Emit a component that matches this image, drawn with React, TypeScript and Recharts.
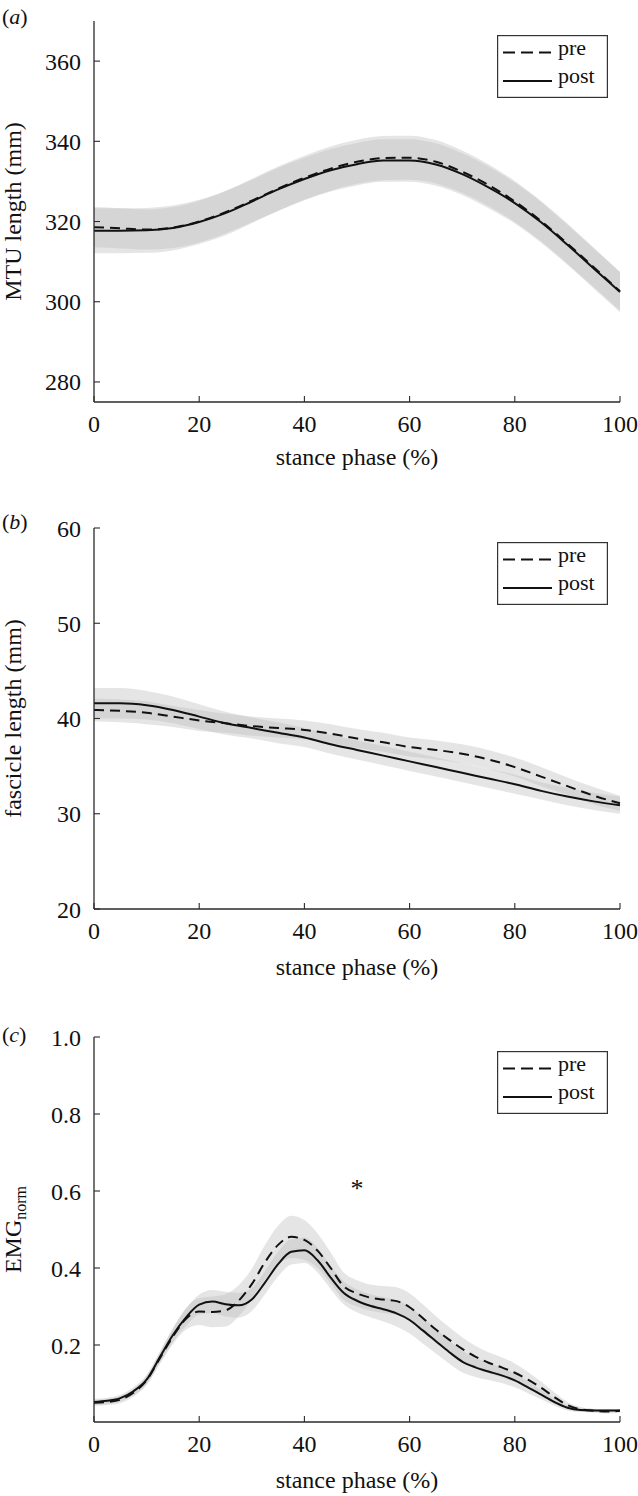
import {
  ComposedChart, Area, Line, XAxis, YAxis, Legend, ReferenceDot,
} from "recharts";

const FONT = '"Liberation Serif", "Times New Roman", serif';
const INK = "#111111";
const AXIS = "#2a2a2a";
const BAND = "#bdbdbd";
const W = 638;

const X_TICKS = [0, 20, 40, 60, 80, 100];
const X_TITLE = "stance phase (%)";

// (a) + (b) sampled every 5 % of stance
const PHASE_AB = [0, 5, 10, 15, 20, 25, 30, 35, 40, 45, 50, 55, 60, 65, 70, 75, 80, 85, 90, 95, 100];

// (a) MTU length (mm)
const MTU_PRE = [318.6, 318.3, 318.0, 318.5, 320.0, 322.3, 325.2, 328.2, 330.9, 333.2, 334.9, 335.8, 335.9, 334.9, 332.4, 329.1, 325.0, 320.1, 314.5, 308.6, 302.6];
const MTU_PRE_SD = [5.0, 5.0, 5.0, 5.1, 5.2, 5.3, 5.4, 5.5, 5.5, 5.5, 5.5, 5.5, 5.5, 5.4, 5.3, 5.2, 5.1, 5.0, 5.0, 4.9, 4.8];
const MTU_POST = [317.7, 317.7, 317.8, 318.4, 319.9, 322.1, 325.0, 328.0, 330.6, 332.8, 334.3, 335.2, 335.2, 334.2, 331.8, 328.5, 324.6, 319.8, 314.2, 308.3, 302.4];
const MTU_POST_SD = [5.6, 5.6, 5.6, 5.6, 5.5, 5.5, 5.4, 5.4, 5.3, 5.3, 5.3, 5.3, 5.3, 5.3, 5.2, 5.2, 5.1, 5.1, 5.0, 5.0, 5.0];
const MTU_TICKS = [280, 300, 320, 340, 360];
const MTU_DOMAIN: [number, number] = [275, 370];

// (b) fascicle length (mm)
const FAS_PRE = [40.9, 40.8, 40.6, 40.2, 39.8, 39.5, 39.2, 39.0, 38.8, 38.4, 37.9, 37.5, 37.0, 36.7, 36.3, 35.7, 34.9, 33.9, 32.9, 31.9, 31.1];
const FAS_PRE_SD = [1.2, 1.2, 1.2, 1.1, 1.1, 1.0, 1.0, 1.0, 1.0, 1.0, 1.0, 1.0, 1.0, 1.0, 1.0, 1.0, 1.0, 1.0, 0.9, 0.9, 0.8];
const FAS_POST = [41.6, 41.6, 41.4, 40.9, 40.2, 39.5, 39.0, 38.5, 38.0, 37.3, 36.7, 36.1, 35.5, 34.9, 34.3, 33.7, 33.1, 32.4, 31.8, 31.3, 30.9];
const FAS_POST_SD = [1.6, 1.6, 1.5, 1.4, 1.3, 1.2, 1.1, 1.1, 1.0, 1.0, 1.0, 1.0, 1.0, 1.0, 1.0, 1.0, 1.0, 0.9, 0.9, 0.9, 0.9];
const FAS_TICKS = [20, 30, 40, 50, 60];
const FAS_DOMAIN: [number, number] = [20, 60];

// (c) normalised EMG, sampled every 2.5 %
const PHASE_C = [0, 2.5, 5, 7.5, 10, 12.5, 15, 17.5, 20, 22.5, 25, 27.5, 30, 32.5, 35, 37.5, 40, 42.5, 45, 47.5, 50, 52.5, 55, 57.5, 60, 62.5, 65, 67.5, 70, 72.5, 75, 77.5, 80, 82.5, 85, 87.5, 90, 92.5, 95, 97.5, 100];
const EMG_PRE = [0.050, 0.052, 0.058, 0.076, 0.108, 0.165, 0.222, 0.268, 0.287, 0.286, 0.290, 0.315, 0.358, 0.415, 0.460, 0.481, 0.473, 0.445, 0.400, 0.352, 0.334, 0.323, 0.318, 0.314, 0.298, 0.270, 0.240, 0.214, 0.190, 0.170, 0.154, 0.142, 0.128, 0.110, 0.089, 0.065, 0.044, 0.033, 0.029, 0.027, 0.029];
const EMG_PRE_SD = [0.008, 0.008, 0.009, 0.010, 0.012, 0.015, 0.020, 0.028, 0.035, 0.040, 0.042, 0.040, 0.040, 0.045, 0.050, 0.055, 0.052, 0.045, 0.040, 0.036, 0.034, 0.034, 0.035, 0.036, 0.036, 0.036, 0.035, 0.033, 0.030, 0.028, 0.027, 0.026, 0.024, 0.020, 0.016, 0.012, 0.008, 0.006, 0.005, 0.005, 0.005];
const EMG_POST = [0.052, 0.055, 0.062, 0.080, 0.110, 0.168, 0.226, 0.272, 0.305, 0.313, 0.306, 0.303, 0.318, 0.362, 0.410, 0.442, 0.446, 0.420, 0.375, 0.335, 0.315, 0.302, 0.293, 0.282, 0.265, 0.238, 0.210, 0.182, 0.157, 0.142, 0.131, 0.121, 0.108, 0.090, 0.071, 0.052, 0.037, 0.031, 0.030, 0.030, 0.030];
const EMG_POST_SD = [0.008, 0.008, 0.009, 0.010, 0.012, 0.014, 0.018, 0.022, 0.026, 0.030, 0.032, 0.032, 0.030, 0.030, 0.032, 0.033, 0.033, 0.032, 0.030, 0.030, 0.030, 0.030, 0.032, 0.034, 0.035, 0.034, 0.032, 0.030, 0.028, 0.025, 0.022, 0.020, 0.018, 0.015, 0.012, 0.009, 0.007, 0.005, 0.004, 0.004, 0.004];
const EMG_TICKS = [0.2, 0.4, 0.6, 0.8, 1.0];
const EMG_DOMAIN: [number, number] = [0, 1];
const SIG_MARK = { x: 50, y: 0.615 };

const LEGEND = [
  { key: "pre", label: "pre", dash: "12 6" },
  { key: "post", label: "post", dash: undefined },
];

function buildRows(x: number[], pre: number[], preSd: number[], post: number[], postSd: number[]) {
  return x.map((v, i) => ({
    x: v,
    pre: pre[i],
    post: post[i],
    preBand: [pre[i] - preSd[i], pre[i] + preSd[i]],
    postBand: [post[i] - postSd[i], post[i] + postSd[i]],
  }));
}

function LegendBox() {
  return (
    <svg width={111} height={63} style={{ display: "block" }}>
      <rect x={0.6} y={0.6} width={109.8} height={61.8} fill="#fff" stroke="#333" strokeWidth={1.2} />
      {LEGEND.map((e, i) => (
        <g key={e.key}>
          <line x1={6} x2={55} y1={17.5 + i * 28.5} y2={17.5 + i * 28.5} stroke={INK} strokeWidth={2} strokeDasharray={e.dash} />
          <text x={61} y={20 + i * 28} fontFamily={FONT} fontSize={22} fill={INK}>{e.label}</text>
        </g>
      ))}
    </svg>
  );
}

interface PanelProps {
  top: number;
  height: number;
  xAxisHeight: number;
  titleGap: number;
  letter: string;
  letterBase: number;
  rows: ReturnType<typeof buildRows>;
  domain: [number, number];
  ticks: number[];
  fmt?: (v: number) => string;
  yTitle: string;
  ySub?: string;
  mark?: { x: number; y: number };
}

function Panel({ top, height, xAxisHeight, titleGap, letter, letterBase, rows, domain, ticks, fmt, yTitle, ySub, mark }: PanelProps) {
  const plotTop = 21;
  const plotH = height - plotTop - xAxisHeight;
  const cy = plotTop + plotH / 2;
  const tickFont = { fill: INK, fontSize: 24, fontFamily: FONT };
  const axisLine = { stroke: AXIS, strokeWidth: 1.3 };
  const tickLine = { stroke: AXIS, strokeWidth: 1.1 };

  return (
    <div style={{ position: "absolute", left: 0, top, width: W, height }}>
      <ComposedChart width={W} height={height} data={rows} margin={{ top: plotTop, right: 18, bottom: 0, left: 0 }}>
        <XAxis
          xAxisId="b" dataKey="x" type="number" domain={[0, 100]} ticks={X_TICKS} interval={0}
          height={xAxisHeight} tickSize={-6} tickMargin={19} tick={tickFont}
          axisLine={axisLine} tickLine={tickLine}
          label={{ value: X_TITLE, position: "insideBottom", offset: xAxisHeight - titleGap, fill: INK, fontSize: 24, fontFamily: FONT }}
        />
        <XAxis
          xAxisId="t" dataKey="x" type="number" domain={[0, 100]} ticks={X_TICKS} interval={0}
          orientation="top" height={0} tickSize={-6} tick={false}
          axisLine={axisLine} tickLine={tickLine}
        />
        <YAxis
          yAxisId="l" type="number" domain={domain} ticks={ticks} interval={0}
          width={94} tickSize={-6} tickMargin={19} tick={tickFont} tickFormatter={fmt}
          axisLine={axisLine} tickLine={tickLine}
          label={() => (
            <text x={21} y={cy} transform={`rotate(-90 21 ${cy})`} textAnchor="middle" fill={INK} fontSize={24} fontFamily={FONT}>
              {yTitle}
              {ySub && <tspan fontSize={16} dy={5}>{ySub}</tspan>}
            </text>
          )}
        />
        <YAxis
          yAxisId="r" type="number" orientation="right" domain={domain} ticks={ticks} interval={0}
          width={0} tickSize={-6} tick={false}
          axisLine={axisLine} tickLine={tickLine}
        />
        <Area xAxisId="b" yAxisId="l" type="monotone" dataKey="preBand" stroke="none" fill={BAND} fillOpacity={0.4} activeDot={false} isAnimationActive={false} />
        <Area xAxisId="b" yAxisId="l" type="monotone" dataKey="postBand" stroke="none" fill={BAND} fillOpacity={0.4} activeDot={false} isAnimationActive={false} />
        <Line xAxisId="b" yAxisId="l" type="monotone" dataKey="pre" stroke={INK} strokeWidth={2} strokeDasharray="10 6" dot={false} activeDot={false} isAnimationActive={false} />
        <Line xAxisId="b" yAxisId="l" type="monotone" dataKey="post" stroke={INK} strokeWidth={2} dot={false} activeDot={false} isAnimationActive={false} />
        {mark && (
          <ReferenceDot
            xAxisId="b" yAxisId="l" x={mark.x} y={mark.y} r={0}
            shape={(p: any) => (
              <text x={p.cx} y={p.cy + 12} textAnchor="middle" fontSize={26} fontFamily={FONT} fill={INK}>*</text>
            )}
          />
        )}
        <Legend
          layout="vertical" align="center" verticalAlign="middle"
          wrapperStyle={{ left: 497, top: plotTop + 14, width: 111, height: 63 }}
          content={() => <LegendBox />}
        />
      </ComposedChart>
      <svg width={40} height={40} style={{ position: "absolute", left: 0, top: 0 }}>
        <text x={2} y={letterBase} fontFamily={FONT} fontSize={22} fill={INK}>
          (<tspan fontStyle="italic">{letter}</tspan>)
        </text>
      </svg>
    </div>
  );
}

export default function App() {
  const rowsA = buildRows(PHASE_AB, MTU_PRE, MTU_PRE_SD, MTU_POST, MTU_POST_SD);
  const rowsB = buildRows(PHASE_AB, FAS_PRE, FAS_PRE_SD, FAS_POST, FAS_POST_SD);
  const rowsC = buildRows(PHASE_C, EMG_PRE, EMG_PRE_SD, EMG_POST, EMG_POST_SD);

  return (
    <div style={{ position: "absolute", left: 0, top: 0, width: W, height: 1496, background: "#fff", overflow: "hidden" }}>
      <Panel top={0} height={480} xAxisHeight={78} titleGap={63} letter="a" letterBase={24}
        rows={rowsA} domain={MTU_DOMAIN} ticks={MTU_TICKS} yTitle="MTU length (mm)" />
      <Panel top={507} height={480} xAxisHeight={78} titleGap={66} letter="b" letterBase={22}
        rows={rowsB} domain={FAS_DOMAIN} ticks={FAS_TICKS} yTitle="fascicle length (mm)" />
      <Panel top={1016} height={480} xAxisHeight={74} titleGap={66} letter="c" letterBase={26}
        rows={rowsC} domain={EMG_DOMAIN} ticks={EMG_TICKS} fmt={(v) => v.toFixed(1)}
        yTitle="EMG" ySub="norm" mark={SIG_MARK} />
    </div>
  );
}
